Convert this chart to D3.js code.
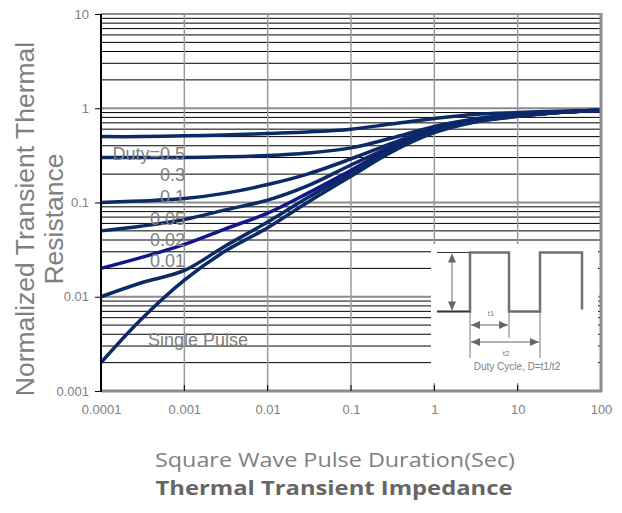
<!DOCTYPE html>
<html><head><meta charset="utf-8">
<script src="https://cdn.jsdelivr.net/npm/d3@7/dist/d3.min.js"></script>
<style>body{margin:0;background:#fff}svg{display:block}</style>
</head><body>
<svg id="c" width="622" height="513"></svg>
<script>
const pulseTimes = [0.0001, 0.0003, 0.001, 0.003, 0.01, 0.03, 0.1, 0.3, 1, 3, 10, 30, 100];
const duty05 = [0.50, 0.50, 0.51, 0.52, 0.54, 0.56, 0.60, 0.68, 0.78, 0.86, 0.90, 0.93, 0.95];
const duty03 = [0.30, 0.30, 0.30, 0.305, 0.315, 0.335, 0.38, 0.48, 0.64, 0.77, 0.86, 0.91, 0.95];
const duty01 = [0.10, 0.104, 0.11, 0.125, 0.155, 0.20, 0.29, 0.42, 0.62, 0.75, 0.84, 0.90, 0.95];
const duty005 = [0.05, 0.056, 0.066, 0.083, 0.106, 0.15, 0.25, 0.39, 0.60, 0.74, 0.83, 0.90, 0.95];
const duty002 = [0.02, 0.026, 0.036, 0.052, 0.077, 0.125, 0.22, 0.37, 0.58, 0.73, 0.83, 0.90, 0.95];
const duty001 = [0.01, 0.014, 0.019, 0.034, 0.062, 0.112, 0.205, 0.36, 0.57, 0.72, 0.82, 0.90, 0.95];
const single = [0.002, 0.0057, 0.015, 0.03, 0.054, 0.10, 0.19, 0.34, 0.55, 0.71, 0.82, 0.90, 0.95];
const seriesNames = ["Duty=0.5", "0.3", "0.1", "0.05", "0.02", "0.01", "Single Pulse"];
const seriesValues = [duty05, duty03, duty01, duty005, duty002, duty001, single];
const xTicks = [0.0001, 0.001, 0.01, 0.1, 1, 10, 100];
const xTickLabels = ["0.0001", "0.001", "0.01", "0.1", "1", "10", "100"];
const yTicks = [0.001, 0.01, 0.1, 1, 10];
const yTickLabels = ["0.001", "0.01", "0.1", "1", "10"];

const svg = d3.select("#c");
const x = d3.scaleLog().domain([0.0001, 100]).range([101, 601]);
const y = d3.scaleLog().domain([0.001, 10]).range([391, 14]);

// minor horizontal gridlines
const minor = [];
for (let d = 0.001; d < 10; d *= 10) for (let k = 2; k <= 9; k++) minor.push(d * k);
svg.append("g").selectAll("line").data(minor).join("line")
  .attr("x1", x(0.0001)).attr("x2", x(100))
  .attr("y1", d => y(d)).attr("y2", d => y(d))
  .attr("stroke", "#000").attr("stroke-width", 1);
// major horizontal
svg.append("g").selectAll("line").data(yTicks.slice(1)).join("line")
  .attr("x1", x(0.0001)).attr("x2", x(100))
  .attr("y1", d => y(d)).attr("y2", d => y(d))
  .attr("stroke", "#8c8c8c").attr("stroke-width", 2);
// vertical grid
svg.append("g").selectAll("line").data(xTicks.slice(1, -1)).join("line")
  .attr("x1", d => x(d)).attr("x2", d => x(d))
  .attr("y1", y(10)).attr("y2", y(0.001))
  .attr("stroke", "#9a9a9a").attr("stroke-width", 1.5);

// inset white box
const inset = svg.append("g");
inset.append("rect").attr("x", 431).attr("y", 244).attr("width", 167).attr("height", 139).attr("fill", "#fff");

// curves
const line = d3.line().x(d => x(d[0])).y(d => y(d[1])).curve(d3.curveCatmullRom.alpha(0.5));
const colors = ["#0b2a66", "#0b2a66", "#0b2a66", "#0b2a66", "#15158a", "#0b2a66", "#0b2a66"];
svg.append("g").selectAll("path").data(seriesValues).join("path")
  .attr("d", v => line(v.map((val, i) => [pulseTimes[i], val])))
  .attr("fill", "none").attr("stroke", (d, i) => colors[i]).attr("stroke-width", 3.5);

// frame
svg.append("line").attr("x1", 101).attr("x2", 601).attr("y1", y(10)).attr("y2", y(10)).attr("stroke", "#8c8c8c").attr("stroke-width", 2);
svg.append("line").attr("x1", x(100)).attr("x2", x(100)).attr("y1", y(10)-1).attr("y2", y(0.001)+1).attr("stroke", "#8c8c8c").attr("stroke-width", 3);
svg.append("line").attr("x1", 101).attr("x2", 602).attr("y1", y(0.001)).attr("y2", y(0.001)).attr("stroke", "#8c8c8c").attr("stroke-width", 3);

// axes
const yAxis = d3.axisLeft(y).tickValues(yTicks).tickFormat((d, i) => yTickLabels[i]).tickSize(6).tickPadding(6);
const gy = svg.append("g").attr("transform", "translate(101,0)").call(yAxis);
gy.select(".domain").attr("stroke", "#000").attr("stroke-width", 2).attr("d", `M0,${y(10)}V${y(0.001)+1}`);
gy.selectAll(".tick line").attr("stroke", "#000");
gy.selectAll("text").attr("fill", "#808080").attr("font-family", "Liberation Sans, Arial, sans-serif").attr("font-size", 13);

const xAxis = d3.axisBottom(x).tickValues(xTicks).tickFormat((d, i) => xTickLabels[i]).tickSize(0).tickPadding(14);
const gx = svg.append("g").attr("transform", `translate(0,${y(0.001)})`).call(xAxis);
gx.select(".domain").remove();
gx.selectAll("text").attr("fill", "#808080").attr("font-family", "Liberation Sans, Arial, sans-serif").attr("font-size", 13);
svg.append("g").selectAll("line").data(xTicks.slice(1, -1)).join("line")
  .attr("x1", d => x(d)).attr("x2", d => x(d)).attr("y1", y(0.001)).attr("y2", y(0.001) - 6)
  .attr("stroke", "#000").attr("stroke-width", 1);

// series labels
const labelPos = [[185, 160], [185, 181], [185, 203], [185, 225], [185, 246], [185, 267], [248, 346]];
svg.append("g").selectAll("text").data(seriesNames).join("text")
  .attr("x", (d, i) => labelPos[i][0]).attr("y", (d, i) => labelPos[i][1])
  .attr("text-anchor", "end").attr("fill", "#808080")
  .attr("font-family", "Liberation Sans, Arial, sans-serif").attr("font-size", 18)
  .text(d => d);

// inset drawing
const g = "#707070";
const lo = 311.5, hi = 252.5;
inset.append("line").attr("x1", 437).attr("x2", 470).attr("y1", hi).attr("y2", hi).attr("stroke", "#333").attr("stroke-width", 1);
inset.append("path").attr("d", `M437,${lo}H470V${hi}H509V${lo}H540V${hi}H582V${lo - 2}`)
  .attr("fill", "none").attr("stroke", g).attr("stroke-width", 2.5);
inset.append("line").attr("x1", 437).attr("x2", 470).attr("y1", lo).attr("y2", lo).attr("stroke", "#333").attr("stroke-width", 1);
[[470, lo, 358], [509, lo, 338], [540, lo, 358]].forEach(([xx, a, b]) =>
  inset.append("line").attr("x1", xx).attr("x2", xx).attr("y1", a).attr("y2", b).attr("stroke", "#555").attr("stroke-width", 0.8));
function arrowHead(px, py, dir) {
  const L = 9, W = 4;
  let p;
  if (dir === "up") p = [[px, py], [px - W, py + L], [px + W, py + L]];
  if (dir === "down") p = [[px, py], [px - W, py - L], [px + W, py - L]];
  if (dir === "left") p = [[px, py], [px + L, py - W], [px + L, py + W]];
  if (dir === "right") p = [[px, py], [px - L, py - W], [px - L, py + W]];
  inset.append("path").attr("d", "M" + p.join("L") + "Z").attr("fill", "#666");
}
inset.append("line").attr("x1", 452).attr("x2", 452).attr("y1", hi + 2).attr("y2", lo - 2).attr("stroke", "#666").attr("stroke-width", 1);
arrowHead(452, hi + 1, "up"); arrowHead(452, lo - 1, "down");
inset.append("line").attr("x1", 471).attr("x2", 508).attr("y1", 325).attr("y2", 325).attr("stroke", "#666").attr("stroke-width", 1);
arrowHead(471, 325, "left"); arrowHead(508, 325, "right");
inset.append("line").attr("x1", 471).attr("x2", 539).attr("y1", 342).attr("y2", 342).attr("stroke", "#666").attr("stroke-width", 1);
arrowHead(471, 342, "left"); arrowHead(539, 342, "right");
inset.append("text").attr("x", 491).attr("y", 316).attr("text-anchor", "middle").attr("font-size", 8).attr("fill", "#808080").attr("font-family", "Liberation Sans, Arial, sans-serif").text("t1");
inset.append("text").attr("x", 506).attr("y", 356).attr("text-anchor", "middle").attr("font-size", 8).attr("fill", "#808080").attr("font-family", "Liberation Sans, Arial, sans-serif").text("t2");
inset.append("text").attr("x", 517).attr("y", 370).attr("text-anchor", "middle").attr("font-size", 10).attr("fill", "#808080").attr("font-family", "Liberation Sans, Arial, sans-serif").text("Duty Cycle, D=t1/t2");

// axis titles
const yt = svg.append("text").attr("transform", "translate(0,219) rotate(-90)").attr("text-anchor", "middle")
  .attr("fill", "#808080").attr("font-family", "Liberation Sans, Arial, sans-serif").attr("font-size", 26.5);
yt.append("tspan").attr("x", 0).attr("y", 34).text("Normalized Transient Thermal");
yt.append("tspan").attr("x", 0).attr("y", 63).text("Resistance");

svg.append("text").attr("x", 335).attr("y", 467).attr("text-anchor", "middle").attr("fill", "#7f7f7f")
  .attr("font-family", "Open Sans, sans-serif").attr("font-size", 20)
  .attr("textLength", 360).attr("lengthAdjust", "spacingAndGlyphs").text("Square Wave Pulse Duration(Sec)");
svg.append("text").attr("x", 334).attr("y", 495).attr("text-anchor", "middle").attr("fill", "#666")
  .attr("font-family", "Open Sans, sans-serif").attr("font-weight", "bold").attr("font-size", 20)
  .attr("textLength", 357).attr("lengthAdjust", "spacingAndGlyphs").text("Thermal Transient Impedance");
</script>
</body></html>
